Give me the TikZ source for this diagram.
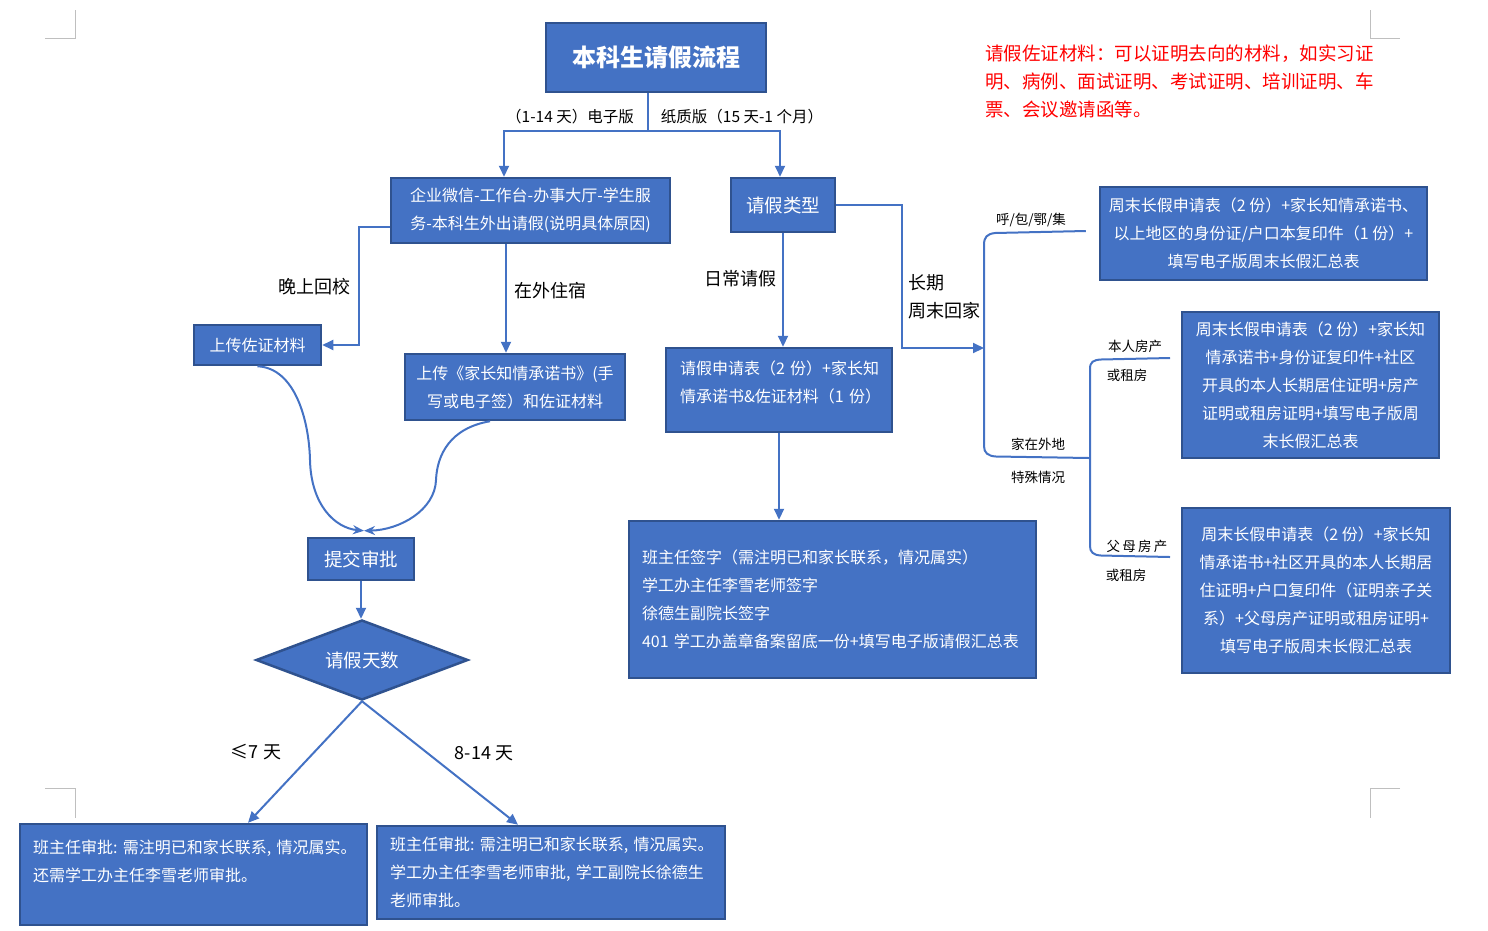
\documentclass[tikz,border=0pt]{standalone}
\usepackage{fontspec}
\setmainfont{Noto Sans CJK SC}
\usetikzlibrary{shapes.geometric,arrows.meta}
\definecolor{boxfill}{HTML}{4472C4}
\definecolor{boxedge}{HTML}{2F528F}
\definecolor{markgray}{HTML}{BFBFBF}
\newcommand{\lowpad}[1]{\rule[-#1]{0pt}{#1}}

\begin{document}
\begin{tikzpicture}[x=1pt,y=1pt,
  box/.style={draw=boxedge,line width=2.5pt,fill=boxfill,text=white,inner sep=0pt,
    font=\fontsize{16}{28}\selectfont,align=center},
  big/.style={font=\fontsize{18.5}{28}\selectfont},
  flow/.style={draw=boxfill,line width=2pt},
  tip/.style={-{Triangle[length=11pt,width=10pt]}},
  lbl/.style={inner sep=0pt,font=\fontsize{18}{28}\selectfont},
  small/.style={inner sep=0pt,font=\fontsize{13.5}{20}\selectfont}]
\useasboundingbox (0,0) rectangle (1488,-930);
% page marks
\draw [markgray,line width=1pt] (45,-38) -- (75,-38) -- (75,-10);
\draw [markgray,line width=1pt] (1370,-10) -- (1370,-38) -- (1400,-38);
\draw [markgray,line width=1pt] (45,-788) -- (75,-788) -- (75,-818);
\draw [markgray,line width=1pt] (1400,-788) -- (1370,-788) -- (1370,-818);
% boxes
\node [box,minimum width=220,minimum height=69,font=\bfseries\fontsize{24}{28}\selectfont] (title) at (656,-57.5) {本科生请假流程};
\node [box,minimum width=279,minimum height=65] (online) at (530.5,-210.5) {企业微信-工作台-办事大厅-学生服\\务-本科生外出请假(说明具体原因)};
\node [box,big,minimum width=104,minimum height=54] (kind) at (783,-205) {请假类型};
\node [box,minimum width=127,minimum height=40] (upload) at (257.5,-345) {上传佐证材料};
\node [box,minimum width=220,minimum height=66] (pledge) at (515,-387) {上传《家长知情承诺书》(手\\写或电子签）和佐证材料};
\node [box,big,minimum width=106,minimum height=42] (submit) at (361,-559) {提交审批};
\node [box,big,diamond,aspect=2.6,minimum width=212,minimum height=80] (days) at (362,-660) {请假天数};
\node [box,align=left,text width=198,inner xsep=14,minimum width=226,minimum height=84] (daily) at (779,-390) {请假申请表（2~份）+家长知\\情承诺书\&佐证材料（1~份）\lowpad{16pt}};
\node [box,align=left,text width=381,inner xsep=13,minimum width=407,minimum height=157] (sign) at (832.5,-599.5) {班主任签字（需注明已和家长联系，情况属实）\\学工办主任李雪老师签字\\徐德生副院长签字\\401~学工办盖章备案留底一份+填写电子版请假汇总表};
\node [box,align=left,text width=321,inner xsep=13,minimum width=347,minimum height=101] (short) at (193.5,-874.5) {班主任审批:~需注明已和家长联系,~情况属实。\\还需学工办主任李雪老师审批。\lowpad{28pt}};
\node [box,align=left,text width=322,inner xsep=13,minimum width=348,minimum height=93] (long) at (551,-872.5) {班主任审批:~需注明已和家长联系,~情况属实。\\学工办主任李雪老师审批,~学工副院长徐德生\\老师审批。};
\node [box,minimum width=327,minimum height=93] (hubox) at (1263.5,-233.5) {周末长假申请表（2 份）+家长知情承诺书、\\以上地区的身份证/户口本复印件（1 份）+\\填写电子版周末长假汇总表};
\node [box,minimum width=257,minimum height=146] (selfbox) at (1310.5,-385) {周末长假申请表（2 份）+家长知\\情承诺书+身份证复印件+社区\\开具的本人长期居住证明+房产\\证明或租房证明+填写电子版周\\末长假汇总表};
\node [box,minimum width=268,minimum height=165] (parentbox) at (1316,-590.5) {周末长假申请表（2 份）+家长知\\情承诺书+社区开具的本人长期居\\住证明+户口复印件（证明亲子关\\系）+父母房产证明或租房证明+\\填写电子版周末长假汇总表};
% note
\node [inner sep=0pt,anchor=west,align=left,text=red,font=\fontsize{18.5}{28}\selectfont] (proof) at (985,-81) {请假佐证材料：可以证明去向的材料，如实习证\\明、病例、面试证明、考试证明、培训证明、车\\票、会议邀请函等。};
% labels
\node [lbl,font=\fontsize{15.5}{20}\selectfont] (ebook) at (570,-117) {（1-14 天）电子版};
\node [lbl,font=\fontsize{15.5}{20}\selectfont] (paper) at (742,-117) {纸质版（15 天-1 个月）};
\node [lbl] (back) at (314,-287) {晚上回校};
\node [lbl] (stay) at (550,-291) {在外住宿};
\node [lbl] (routine) at (740,-279) {日常请假};
\node [lbl,anchor=west,align=left] (weekend) at (908,-297) {长期\\周末回家};
\node [lbl] (le7) at (256,-752) {≤7 天};
\node [lbl] (d814) at (484,-753) {8-14 天};
\node [small] (region) at (1031,-220) {呼/包/鄂/集};
\node [small] (away) at (1038,-444) {家在外地};
\node [small] (special) at (1038,-477) {特殊情况};
\node [small] (self1) at (1135,-346) {本人房产};
\node [small] (self2) at (1127,-375) {或租房};
\node [small] (par1) at (1137,-546) {父\,母\,房\,产};
\node [small] (par2) at (1126,-575) {或租房};
% connectors
\coordinate (split) at (648,-131);
\coordinate (hub) at (984,-348);
\coordinate (fork) at (1089,-458);
\coordinate (selfend) at (1170,-358);
\coordinate (parentend) at (1170,-557);
\coordinate (stayline) at ([xshift=-24.5pt]online.south);
\coordinate (meet) at ([xshift=3pt,yshift=6pt]submit.north);
\draw [flow] (title.south -| split) -- (split);
\draw [flow,tip] (split) -| ([xshift=-26.5pt]online.north);
\draw [flow,tip] (split) -| ([xshift=-3pt]kind.north);
\draw [flow,tip] ([yshift=-16.5pt]online.west) -- ++(-31,0) |- (upload.east);
\draw [flow,tip] (stayline) -- (stayline |- pledge.north);
\draw [flow,-{Stealth[length=11pt,width=9pt]}] (upload.south) .. controls (295,-368) and (309,-420) .. (310,-460) .. controls (311,-505) and (335,-528) .. (meet);
\draw [flow,-{Stealth[length=11pt,width=9pt]}] ([xshift=-25pt]pledge.south) .. controls (450,-428) and (437,-455) .. (436,-480) .. controls (435,-510) and (400,-530) .. (meet);
\draw [flow,tip] (submit.south) -- (submit.south |- days.north);
\draw [flow,tip] (days.south) -- ([xshift=54.5pt]short.north);
\draw [flow,tip] (days.south) -- ([xshift=-33pt]long.north);
\draw [flow,tip] (kind.south) -- (kind.south |- daily.north);
\draw [flow,tip] (daily.south) -- (daily.south |- sign.north);
\draw [flow,tip] (kind.east) -- ++(66,0) |- (hub);
\draw [flow] ([xshift=-13pt,yshift=2.5pt]hubox.west) -- (995,-233) .. controls (987,-234) and (984,-237) .. (984,-245) -- (984,-446) .. controls (984,-453) and (988,-456) .. (996,-456.5) -- (fork);
\draw [flow] (selfend) -- (1101,-359.5) .. controls (1093,-360) and (1090,-362) .. (1090,-369) -- (1090,-546) .. controls (1090,-552) and (1093,-555) .. (1101,-555.5) -- (parentend);
\end{tikzpicture}
\end{document}
